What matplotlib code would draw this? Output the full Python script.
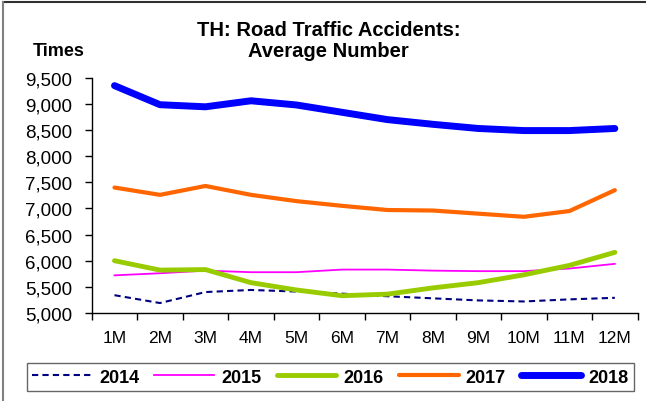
import matplotlib.pyplot as plt
from matplotlib.lines import Line2D

plt.rcParams["font.family"] = ["Liberation Sans", "DejaVu Sans"]

months = ["1M", "2M", "3M", "4M", "5M", "6M", "7M", "8M", "9M", "10M", "11M", "12M"]
y2014 = [5340, 5190, 5400, 5440, 5410, 5370, 5320, 5280, 5240, 5220, 5260, 5290]
y2015 = [5720, 5760, 5810, 5780, 5780, 5830, 5830, 5810, 5800, 5800, 5850, 5940]
y2016 = [6000, 5820, 5830, 5580, 5440, 5330, 5360, 5480, 5580, 5730, 5910, 6160]
y2017 = [7400, 7260, 7430, 7260, 7140, 7050, 6970, 6960, 6900, 6840, 6950, 7350]
y2018 = [9350, 8985, 8945, 9060, 8980, 8840, 8700, 8610, 8530, 8490, 8490, 8530]
yticks = [5000, 5500, 6000, 6500, 7000, 7500, 8000, 8500, 9000, 9500]

fig = plt.figure(figsize=(6.46, 4.02), dpi=100)
ax = fig.add_axes([0.142, 0.219, 0.845, 0.585])

x = list(range(len(months)))
ax.plot(x, y2014, color="#000080", lw=1.5, ls=(0, (3, 2)), label="2014")
ax.plot(x, y2015, color="#FF00FF", lw=1.3, label="2015")
ax.plot(x, y2016, color="#99CC00", lw=3.5, label="2016", solid_capstyle="round")
ax.plot(x, y2017, color="#FF6600", lw=3, label="2017", solid_capstyle="round")
ax.plot(x, y2018, color="#0000FF", lw=5, label="2018", solid_capstyle="round")

ax.set_xlim(-0.5, len(months) - 0.5)
ax.set_ylim(5000, 9500)
ax.set_yticks(yticks)
ax.set_yticklabels([f"{v:,}" for v in yticks], fontsize=13.5)
ax.set_xticks(x)
ax.set_xticklabels(months, fontsize=12.5)
ax.set_xticks([i - 0.5 for i in range(len(months) + 1)], minor=True)
ax.tick_params(axis="x", which="major", length=0, pad=12)
ax.tick_params(axis="x", which="minor", length=5, width=1, direction="out")
ax.tick_params(axis="y", length=5, width=1, direction="out", pad=9)
for s in ["top", "right"]:
    ax.spines[s].set_visible(False)
for s in ["left", "bottom"]:
    ax.spines[s].set_linewidth(1)

# title and unit label
fig.text(0.509, 0.898, "TH: Road Traffic Accidents:\nAverage Number", ha="center", va="center",
         fontsize=14.5, fontweight="bold", linespacing=1.15)
fig.text(0.051, 0.872, "Times", ha="left", va="center", fontsize=13, fontweight="bold")

leg = fig.legend(loc="center", bbox_to_anchor=(0.511, 0.0597), ncol=5, frameon=True,
                 fancybox=False, edgecolor="#404040", prop={"weight": "bold", "size": 13},
                 handlelength=3.3, handletextpad=0.4, columnspacing=0.85, borderpad=0.3)
leg.get_frame().set_linewidth(1)

# outer frame lines
fig.add_artist(Line2D([0.005, 1], [0.992, 0.992], color="#303030", lw=1.5, transform=fig.transFigure))
fig.add_artist(Line2D([0.005, 0.005], [0, 0.992], color="#808080", lw=1.5, transform=fig.transFigure))

fig.savefig("out.png", dpi=100)
